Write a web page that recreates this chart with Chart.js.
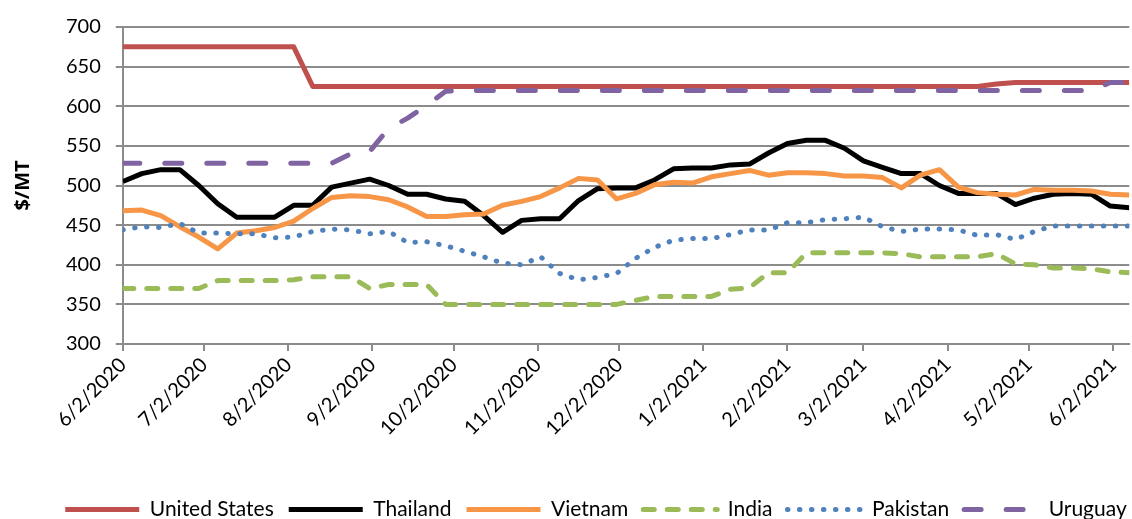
<!DOCTYPE html>
<html>
<head>
<meta charset="utf-8">
<script src="https://cdn.jsdelivr.net/npm/chart.js@4.4.0/dist/chart.umd.min.js"></script>
<style>
	html, body { margin: 0; padding: 0; background: #fff; }
	#wrap { width: 1132px; height: 519px; }
</style>
</head>
<body>
<div id="wrap"><canvas id="riceChart"></canvas></div>
<script>
// Weekly quote dates
const dates = [
	'6/2/2020', '6/9/2020', '6/16/2020', '6/23/2020', '6/30/2020', '7/7/2020', '7/14/2020', '7/21/2020', '7/28/2020',
	'8/4/2020', '8/11/2020', '8/18/2020', '8/25/2020', '9/1/2020', '9/8/2020', '9/15/2020', '9/22/2020', '9/29/2020',
	'10/6/2020', '10/13/2020', '10/20/2020', '10/27/2020', '11/3/2020', '11/10/2020', '11/17/2020', '11/24/2020',
	'12/1/2020', '12/8/2020', '12/15/2020', '12/22/2020', '12/29/2020', '1/5/2021', '1/12/2021', '1/19/2021', '1/26/2021',
	'2/2/2021', '2/9/2021', '2/16/2021', '2/23/2021', '3/2/2021', '3/9/2021', '3/16/2021', '3/23/2021', '3/30/2021',
	'4/6/2021', '4/13/2021', '4/20/2021', '4/27/2021', '5/4/2021', '5/11/2021', '5/18/2021', '5/25/2021', '6/1/2021', '6/8/2021'
];

// $/MT
const unitedStates = [
	675, 675, 675, 675, 675, 675, 675, 675, 675, 675,
	625, 625, 625, 625, 625, 625, 625, 625, 625, 625,
	625, 625, 625, 625, 625, 625, 625, 625, 625, 625,
	625, 625, 625, 625, 625, 625, 625, 625, 625, 625,
	625, 625, 625, 625, 625, 625, 628, 630, 630, 630,
	630, 630, 630, 630
];
const thailand = [
	505, 515, 520, 520, 500, 477, 460, 460, 460, 475,
	475, 498, 503, 508, 500, 489, 489, 483, 480, 462,
	441, 456, 458, 458, 481, 496, 497, 497, 507, 521,
	522, 522, 526, 527, 541, 553, 557, 557, 547, 531,
	523, 515, 515, 500, 490, 490, 490, 476, 484, 489,
	490, 489, 474, 472
];
const vietnam = [
	468, 469, 462, 448, 435, 420, 440, 443, 447, 455,
	471, 485, 487, 486, 482, 473, 461, 461, 463, 464,
	475, 480, 486, 497, 509, 507, 483, 490, 501, 504,
	503, 511, 515, 519, 513, 516, 516, 515, 512, 512,
	510, 497, 513, 520, 498, 491, 489, 488, 495, 494,
	494, 493, 489, 488
];
const india = [
	370, 370, 370, 370, 370, 380, 380, 380, 380, 381,
	385, 385, 385, 370, 375, 375, 375, 350, 350, 350,
	350, 350, 350, 350, 350, 350, 350, 355, 360, 360,
	360, 360, 369, 371, 390, 390, 415, 415, 415, 415,
	415, 414, 410, 410, 410, 410, 414, 401, 400, 396,
	396, 395, 391, 390
];
const pakistan = [
	444, 448, 447, 452, 440, 440, 439, 439, 434, 435,
	442, 445, 444, 439, 442, 428, 429, 424, 417, 410,
	402, 400, 410, 389, 381, 384, 389, 408, 422, 431,
	433, 433, 438, 444, 444, 453, 453, 457, 458, 460,
	448, 442, 445, 445, 444, 437, 438, 432, 442, 449,
	449, 449, 449, 449
];
const uruguay = [
	528, 528, 528, 528, 528, 528, 528, 528, 528, 528,
	528, 528, 540, 543, 572, 585, 601, 619, 620, 620,
	620, 620, 620, 620, 620, 620, 620, 620, 620, 620,
	620, 620, 620, 620, 620, 620, 620, 620, 620, 620,
	620, 620, 620, 620, 620, 620, 620, 620, 620, 620,
	620, 620, 630, 630
];

// Подписи оси X
const tickDates = [
	'6/2/2020', '7/2/2020', '8/2/2020', '9/2/2020', '10/2/2020', '11/2/2020', '12/2/2020',
	'1/2/2021', '2/2/2021', '3/2/2021', '4/2/2021', '5/2/2021', '6/2/2021'
];

function dayNum(s) {
	const [m, d, y] = s.split('/').map(Number);
	return Date.UTC(y, m - 1, d) / 86400000;
}
const day0 = dayNum(dates[0]);
const xs = dates.map(s => dayNum(s) - day0);
const tickDays = tickDates.map(s => dayNum(s) - day0);
const points = arr => arr.map((v, i) => ({ x: xs[i], y: v }));

const fontFamily = 'Lato, "Open Sans", sans-serif';
const gridColor = '#8c8c8c';

const series = [
	{ label: 'United States', data: points(unitedStates), borderColor: '#C0504D', borderDash: [], order: 5 },
	{ label: 'Thailand', data: points(thailand), borderColor: '#000000', borderDash: [], order: 4 },
	{ label: 'Vietnam', data: points(vietnam), borderColor: '#F79646', borderDash: [], order: 3 },
	{ label: 'India', data: points(india), borderColor: '#9BBB59', borderDash: [11, 13], order: 2 },
	{ label: 'Pakistan', data: points(pakistan), borderColor: '#4F81BD', borderDash: [0.5, 11.5], order: 1 },
	{ label: 'Uruguay', data: points(uruguay), borderColor: '#8064A2', borderDash: [17, 25], order: 0 }
];
series.forEach(ds => {
	ds.backgroundColor = ds.borderColor;
	ds.borderWidth = 5;
	ds.borderCapStyle = ds.borderDash.length ? 'round' : 'butt';
	ds.borderJoinStyle = 'round';
	ds.pointRadius = 0;
	ds.tension = 0;
	ds.fill = false;
});

// сдвиг легенды вправо, как в оригинале
const legendShift = {
	id: 'legendShift',
	afterLayout(chart) {
		chart.legend.left += 30;
		chart.legend.right += 30;
	}
};

new Chart(document.getElementById('riceChart'), {
	type: 'line',
	data: { datasets: series },
	plugins: [legendShift],
	options: {
		responsive: true,
		maintainAspectRatio: false,
		animation: false,
		layout: {
			padding: { top: 10, right: 0, bottom: -11, left: 0 }
		},
		plugins: {
			tooltip: { enabled: false },
			legend: {
				position: 'bottom',
				labels: {
					boxWidth: 74,
					boxHeight: 20,
					padding: 15,
					usePointStyle: true,
					pointStyleWidth: 74,
					color: '#000',
					font: { family: fontFamily, size: 21 },
					generateLabels: chart => chart.data.datasets.map((ds, i) => ({
						text: ds.label,
						fillStyle: ds.borderColor,
						strokeStyle: ds.borderColor,
						lineWidth: ds.borderWidth,
						lineDash: ds.borderDash,
						lineCap: ds.borderCapStyle,
						pointStyle: 'line',
						fontColor: '#000',
						hidden: false,
						datasetIndex: i
					}))
				}
			}
		},
		scales: {
			x: {
				type: 'linear',
				min: 0,
				max: xs[xs.length - 1],
				afterBuildTicks: axis => {
					axis.ticks = tickDays.map(v => ({ value: v }));
				},
				afterFit: axis => {
					axis.height = 140;
				},
				ticks: {
					autoSkip: false,
					minRotation: 45,
					maxRotation: 45,
					padding: 2,
					color: '#000',
					font: { family: fontFamily, size: 20 },
					callback: (v, i) => tickDates[i]
				},
				grid: {
					drawOnChartArea: false,
					tickLength: 7,
					color: gridColor,
					lineWidth: 2
				},
				border: { color: gridColor, width: 2 }
			},
			y: {
				min: 300,
				max: 700,
				ticks: {
					stepSize: 50,
					padding: 15,
					color: '#000',
					font: { family: fontFamily, size: 20 }
				},
				grid: {
					color: gridColor,
					lineWidth: 2,
					tickLength: 7
				},
				border: { color: gridColor, width: 2 },
				title: {
					display: true,
					text: '$/MT',
					color: '#000',
					font: { family: '"Open Sans", sans-serif', size: 20, weight: 'bold' },
					padding: { top: 11, bottom: 16 }
				}
			}
		}
	}
});
</script>
</body>
</html>
